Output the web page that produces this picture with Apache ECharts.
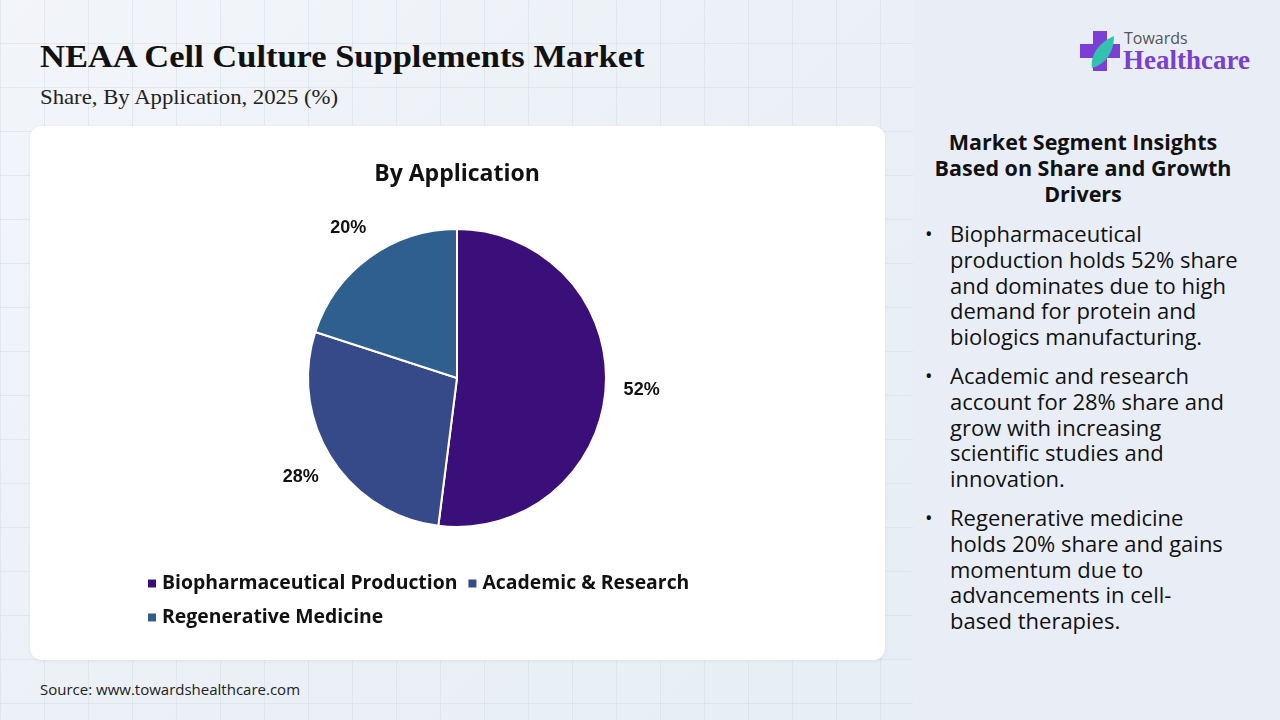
<!DOCTYPE html>
<html>
<head>
<meta charset="utf-8">
<script src="https://cdn.jsdelivr.net/npm/echarts@6/dist/echarts.min.js"></script>
<style>
  html,body{margin:0;padding:0;width:1280px;height:720px;overflow:hidden;}
  body{position:relative;background:#edf2f7;
    background-image:
      linear-gradient(90deg, rgba(200,210,225,0.35) 1px, transparent 1px),
      linear-gradient(0deg, rgba(200,210,225,0.35) 1px, transparent 1px),
      linear-gradient(135deg,#f3f5f9 0%,#eaf0f6 50%,#e4eef5 100%);
    background-size:44px 44px,44px 44px,100% 100%;
    font-family:"Open Sans",sans-serif;}
  #title{position:absolute;left:40px;top:38px;font-family:"Liberation Serif","DejaVu Serif",serif;font-weight:bold;font-size:32px;color:#111;transform:scaleX(1.077);transform-origin:0 0;white-space:nowrap;}
  #sub{position:absolute;left:40px;top:85px;font-family:"Liberation Serif","DejaVu Serif",serif;font-size:21px;color:#222;transform:scaleX(1.083);transform-origin:0 0;white-space:nowrap;}
  #card{position:absolute;left:30px;top:126px;width:855px;height:534px;background:#fff;border-radius:12px;box-shadow:0 1px 4px rgba(0,0,0,0.06);}
  #chart{position:absolute;left:0;top:0;width:855px;height:534px;}
  #panel{position:absolute;left:913px;top:0;width:367px;height:720px;background:#e9eef6;}
  #ph{position:absolute;left:903px;top:129px;width:360px;text-align:center;font-weight:700;font-size:21.5px;line-height:26px;color:#111;}
  #list{position:absolute;left:925px;top:221px;width:355px;font-size:22px;line-height:25.8px;color:#111;}
  .b{position:relative;padding-left:25px;margin-bottom:13px;white-space:nowrap;}
  .b:before{content:"•";position:absolute;left:0;top:0;font-size:20px;}
  #src{position:absolute;left:40px;top:679px;font-size:15px;color:#222;}
  #logo{position:absolute;left:1080px;top:28px;width:180px;height:50px;}
  #lt1{position:absolute;left:1124px;top:27px;font-size:16px;color:#555;}
  #lt2{position:absolute;left:1123px;top:45px;font-family:"Liberation Serif",serif;font-weight:bold;font-size:27px;color:#7a3fd1;}
</style>
</head>
<body>
<div id="panel"></div>
<div id="title">NEAA Cell Culture Supplements Market</div>
<div id="sub">Share, By Application, 2025 (%)</div>
<div id="card"><div id="chart"></div></div>
<div id="ph">Market Segment Insights<br>Based on Share and Growth<br>Drivers</div>
<div id="list">
  <div class="b">Biopharmaceutical<br>production holds 52% share<br>and dominates due to high<br>demand for protein and<br>biologics manufacturing.</div>
  <div class="b">Academic and research<br>account for 28% share and<br>grow with increasing<br>scientific studies and<br>innovation.</div>
  <div class="b">Regenerative medicine<br>holds 20% share and gains<br>momentum due to<br>advancements in cell-<br>based therapies.</div>
</div>
<div id="src">Source: www.towardshealthcare.com</div>
<svg id="logo" viewBox="0 0 180 50">
  <rect x="13" y="3" width="14" height="40" fill="#7b3fd6"/>
  <rect x="0" y="16" width="40" height="14" fill="#7b3fd6"/>
  <path d="M12 40 C 10 26, 20 14, 34 8 C 34 24, 26 36, 12 40 Z" fill="#33c2b0"/>
</svg>
<div id="lt1">Towards</div>
<div id="lt2">Healthcare</div>
<script>
const categories = ["Biopharmaceutical Production","Academic & Research","Regenerative Medicine"];
const values = [52, 28, 20];
const colors = ["#3b0f7a","#364a8a","#2f5f8f"];

const chart = echarts.init(document.getElementById('chart'));
chart.setOption({
  animation:false,
  title:{text:'By Application',left:427,top:37,textAlign:'center',padding:0,
    textStyle:{fontFamily:'Open Sans',fontWeight:700,fontSize:23,color:'#111'}},
  legend:{left:116,top:445,width:600,padding:0,itemWidth:10,itemHeight:10,itemGap:9,icon:'rect',
    data:categories.map((c,i)=>({name:c,itemStyle:{color:colors[i]}})),
    textStyle:{fontFamily:'Open Sans',fontWeight:700,fontSize:19.4,lineHeight:25,color:'#111',padding:[0,0,0,0]}},
  series:[{
    type:'pie',center:[427,252],radius:[0,149],startAngle:90,clockwise:true,
    data:categories.map((c,i)=>({name:c,value:values[i],itemStyle:{color:colors[i]}})),
    itemStyle:{borderColor:'#fff',borderWidth:2},
    label:{show:false},labelLine:{show:false},
    emphasis:{disabled:true}
  },{
    type:'pie',center:[427,252],radius:[171,193],startAngle:90,clockwise:true,silent:true,
    data:categories.map((c,i)=>({name:c,value:values[i]})),
    itemStyle:{color:'rgba(0,0,0,0)',borderWidth:0},
    label:{show:true,position:'inside',formatter:'{c}%',fontFamily:'Liberation Sans',fontWeight:'bold',fontSize:18,color:'#111'},
    labelLine:{show:false},
    emphasis:{disabled:true}
  }]
});
</script>
</body>
</html>
